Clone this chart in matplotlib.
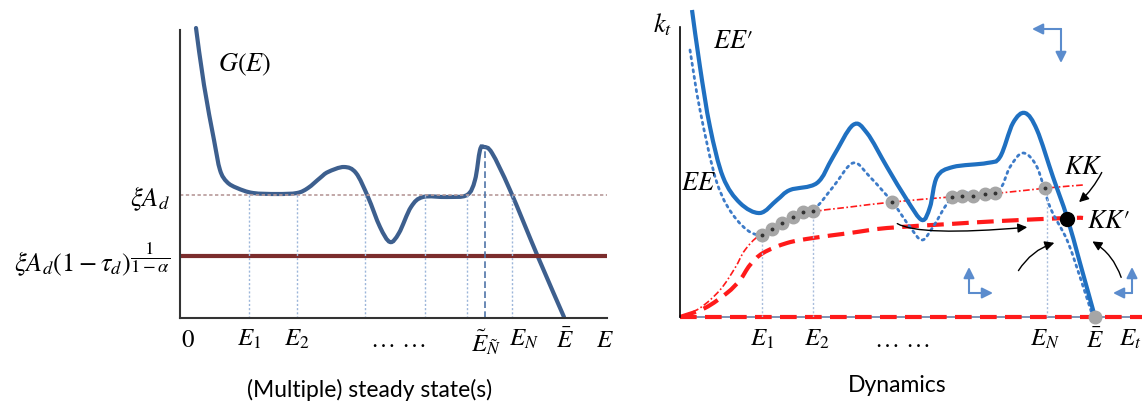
import numpy as np
import matplotlib
matplotlib.use("Agg")
import matplotlib.pyplot as plt
from matplotlib.path import Path
from matplotlib.patches import PathPatch, FancyArrowPatch

plt.rcParams['mathtext.fontset'] = 'stix'
plt.rcParams['font.family'] = ['Lato', 'DejaVu Sans']

#-- Left panel: G(E) and the two threshold levels
g_x = [16, 24, 34, 40, 47, 57, 73, 97, 117, 128, 140, 148, 164, 176, 188, 200, 210, 219,
       231, 243, 267, 287, 295, 300, 304, 312, 330, 358, 384]
g_y = [290, 233, 178, 148, 136, 130, 125, 124, 125, 130, 140, 146, 151, 145, 121, 91, 76, 85,
       111, 121, 121, 123, 138, 168, 171, 165, 128, 61, 1]
xi_ad = 123
xi_ad_tax = 62
left_guides_x = [69, 117, 185, 245, 287, 332]
left_guides_top = [123, 123, 123, 123, 123, 123]
e_tilde_x, e_tilde_top = 305, 171
left_ticks = [8, 69, 117, 218, 306, 344, 385, 425]
left_ticklabels = ['$0$', '$E_1$', '$E_2$', r'$\ldots\ \ldots$', r'$\tilde{E}_{\tilde{N}}$',
                   '$E_N$', r'$\bar{E}$', '$E$']

#-- Right panel: EE', EE, KK, KK' and the steady states
ee2_x = [12, 20, 30, 43, 60, 80, 97, 110, 137, 153, 173, 187, 207, 227, 242, 250, 257, 273,
         307, 320, 333, 345, 357, 373, 387, 400, 415]
ee2_y = [307, 250, 190, 140, 114, 104, 117, 127, 134, 160, 192, 184, 150, 117, 97, 110, 140, 150,
         154, 160, 194, 204, 187, 140, 100, 54, 0]
ee_x = [10, 20, 37, 57, 80, 107, 133, 153, 173, 190, 213, 230, 242, 253, 270, 287, 317, 330,
        343, 357, 370, 387, 400, 413]
ee_y = [267, 207, 134, 97, 82, 97, 107, 130, 154, 140, 114, 90, 77, 90, 117, 124, 125, 150,
        164, 150, 110, 77, 40, 0]
kk_x = [0, 20, 40, 55, 65, 80, 107, 133, 170, 213, 270, 320, 367, 403]
kk_y = [0, 9, 27, 49, 67, 82, 95, 105, 110, 115, 120, 124, 129, 132]
kk2_x = [0, 25, 47, 60, 70, 83, 107, 133, 170, 207, 270, 320, 387, 403]
kk2_y = [0, 9, 24, 37, 52, 64, 74, 79, 84, 89, 93, 96, 99, 99]
ss_x = [82, 92, 102, 113, 123, 133, 212, 272, 282, 293, 305, 315, 365]
ss_y = [82, 88, 94, 100, 105, 106, 115, 120, 121, 121, 123, 124, 129]
ebar_x = 415
new_ss = (387, 98)
right_guides_x = [82, 133, 367]
right_guides_top = [82, 106, 129]
right_ticks = [82, 137, 222, 365, 415, 450]
right_ticklabels = ['$E_1$', '$E_2$', r'$\ldots\ \ldots$', '$E_N$', r'$\bar{E}$', '$E_t$']


def smooth_path(xs, ys):
    # Catmull-Rom through the points, written as cubic Bezier segments
    P = np.column_stack([xs, ys]).astype(float)
    verts, codes = [P[0]], [Path.MOVETO]
    for i in range(len(P) - 1):
        p0 = P[i - 1] if i > 0 else P[i]
        p1, p2 = P[i], P[i + 1]
        p3 = P[i + 2] if i + 2 < len(P) else P[i + 1]
        verts += [p1 + (p2 - p0) / 6, p2 - (p3 - p1) / 6, p2]
        codes += [Path.CURVE4] * 3
    return Path(verts, codes)


def curve(ax, xs, ys, **kw):
    ax.add_patch(PathPatch(smooth_path(xs, ys), fill=False, clip_on=False, **kw))


W, H = 1142, 401
fig = plt.figure(figsize=(W / 100, H / 100), dpi=100)

ax1 = fig.add_axes([180 / W, (H - 318) / H, (607 - 180) / W, 318 / H])
ax1.set_xlim(0, 427)
ax1.set_ylim(0, 318)
for s in ['top', 'right']:
    ax1.spines[s].set_visible(False)
ax1.spines['left'].set_bounds(0, 288)
for s in ['left', 'bottom']:
    ax1.spines[s].set_color('#333333')
    ax1.spines[s].set_linewidth(1.5)

ax1.axhline(xi_ad, color='#b79a9a', lw=1.2, ls=(0, (2, 1.5)))
ax1.axhline(xi_ad_tax, color='#7b2d2d', lw=3)
for gx, top in zip(left_guides_x, left_guides_top):
    ax1.plot([gx, gx], [0, top], color='#9cb6da', lw=1, ls=(0, (1.5, 1.5)))
ax1.plot([e_tilde_x, e_tilde_x], [0, e_tilde_top], color='#4f74a8', lw=1.2, ls=(0, (4, 2)))
curve(ax1, g_x, g_y, ec='#3d5f8e', lw=3, capstyle='round')
ax1.text(65, 253, '$G(E)$', fontsize=19, ha='center', va='center')

ax1.set_xticks(left_ticks, left_ticklabels, fontsize=18)
ax1.set_yticks([xi_ad, xi_ad_tax],
               [r'$\xi A_d$', r'$\xi A_d(1-\tau_d)^{\dfrac{1}{1-\alpha}}$'],
               fontsize=19)
ax1.tick_params(length=0, pad=7)
ax1.set_xlabel('(Multiple) steady state(s)', fontsize=16.5, labelpad=16,
               x=(370 - 180) / 427)

ax2 = fig.add_axes([680 / W, (H - 317) / H, (W - 680) / W, 317 / H])
ax2.set_xlim(0, 462)
ax2.set_ylim(0, 317)
for s in ['top', 'right', 'bottom']:
    ax2.spines[s].set_visible(False)
ax2.spines['left'].set_bounds(0, 290)
ax2.spines['left'].set_color('black')
ax2.spines['left'].set_linewidth(1.2)
ax2.axhline(0, color='#6b7fa6', lw=1.2, clip_on=False)
ax2.axhline(0, color='#ff1a1a', lw=3, ls=(0, (4, 2)), clip_on=False)

for gx, top in zip(right_guides_x, right_guides_top):
    ax2.plot([gx, gx], [0, top], color='#a9bddc', lw=1, ls=(0, (1.5, 1.5)))

curve(ax2, kk_x, kk_y, ec='#ff1a1a', lw=1.2, ls=(0, (4, 1.5, 1, 1.5)))
curve(ax2, kk2_x, kk2_y, ec='#ff1a1a', lw=3, ls=(0, (4, 2)))
curve(ax2, ee_x, ee_y, ec='#3d7bc8', lw=2, ls=(0, (0.8, 1.6)), capstyle='round')
curve(ax2, ee2_x, ee2_y, ec='#1f70c1', lw=3)

ax2.plot(ss_x, ss_y, 'o', ms=9, color='#a6a6a6', clip_on=False, zorder=5)
ax2.plot(ss_x, ss_y, 'o', ms=1.8, color='#333333', clip_on=False, zorder=6)
ax2.plot([ebar_x], [0], 'o', ms=9, color='#a6a6a6', clip_on=False, zorder=5)
ax2.plot([new_ss[0]], [new_ss[1]], 'o', ms=10, color='black', clip_on=False, zorder=6)

# trajectories towards the new steady state
arrows = [((215, 95), (350, 90), 'angle3,angleA=-40,angleB=5'),
          ((423, 147), (397, 113), 'arc3,rad=-0.1'),
          ((337, 44), (377, 75), 'arc3,rad=-0.2'),
          ((442, 37), (410, 77), 'arc3,rad=0.2')]
for start, end, conn in arrows:
    ax2.add_patch(FancyArrowPatch(start, end, connectionstyle=conn, arrowstyle='-|>',
                                  mutation_scale=14, color='black', lw=1, clip_on=False,
                                  zorder=7))

# phase directions
phase = [((381, 288), (352, 288), (381, 254)),
         ((289, 24), (289, 50), (313, 24)),
         ((452, 24), (452, 50), (433, 24))]
for corner, tip_a, tip_b in phase:
    for tip in (tip_a, tip_b):
        ax2.add_patch(FancyArrowPatch(corner, tip, arrowstyle='-|>', mutation_scale=16,
                                      color='#5b8ccd', lw=1.5, clip_on=False,
                                      shrinkA=0, shrinkB=0))

ax2.text(-17, 292, '$k_t$', fontsize=19, ha='center', va='center')
ax2.text(53, 277, r'$EE\prime$', fontsize=19, ha='center', va='center')
ax2.text(18, 134, '$EE$', fontsize=19, ha='center', va='center')
ax2.text(403, 150, '$KK$', fontsize=19, ha='center', va='center')
ax2.text(428, 97, r'$KK\prime$', fontsize=19, ha='center', va='center')

ax2.set_xticks(right_ticks, right_ticklabels, fontsize=18)
ax2.set_yticks([])
ax2.tick_params(length=0, pad=8)
ax2.set_xlabel('Dynamics', fontsize=16.5, labelpad=16, x=(897 - 680) / 462)

fig.savefig('out.png', dpi=100)
